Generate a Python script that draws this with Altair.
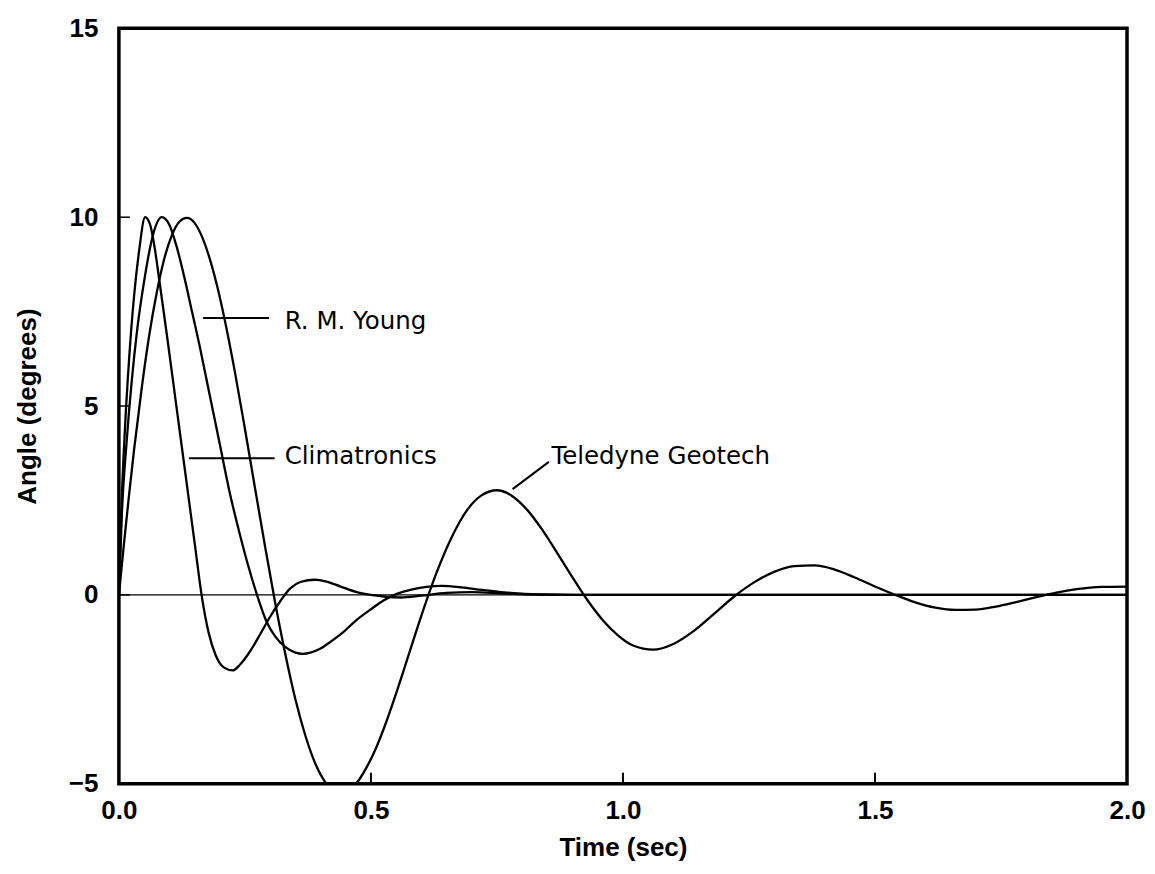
import altair as alt
import pandas as pd

# ---- data ----
clim_t = [0, 0.005, 0.012, 0.02, 0.03, 0.04, 0.052, 0.062, 0.072, 0.081, 0.095, 0.11, 0.125, 0.14,
          0.152, 0.164, 0.178, 0.192, 0.208, 0.226, 0.24, 0.26, 0.28, 0.30, 0.32, 0.34, 0.36, 0.389,
          0.41, 0.44, 0.47, 0.50, 0.53, 0.56, 0.60, 0.65, 0.70, 0.76, 0.82, 0.9, 1.0, 1.2, 1.4, 1.6, 1.8, 2.0]
clim_v = [0, 2.3, 4.4, 6.2, 7.9, 9.1, 10.0, 9.8, 9.1, 8.25, 6.9, 5.4, 3.9, 2.4,
          1.2, 0.0, -1.0, -1.6, -1.92, -2.0, -1.85, -1.5, -1.05, -0.58, -0.17, 0.17, 0.34, 0.40,
          0.36, 0.22, 0.08, 0.0, -0.05, -0.07, -0.02, 0.05, 0.07, 0.04, 0.01, 0.0, 0.0, 0.0, 0.0, 0.0, 0.0, 0.0]

young_t = [0, 0.006, 0.015, 0.025, 0.037, 0.05, 0.068, 0.085, 0.10, 0.115, 0.13, 0.145, 0.16, 0.18,
           0.20, 0.22, 0.24, 0.257, 0.274, 0.293, 0.31, 0.33, 0.35, 0.365, 0.38, 0.40, 0.42, 0.444,
           0.47, 0.50, 0.525, 0.55, 0.58, 0.61, 0.64, 0.68, 0.72, 0.77, 0.83, 0.9, 1.0, 1.2, 1.4, 1.6,
           1.8, 2.0]
young_v = [0, 2.2, 4.0, 5.6, 7.1, 8.3, 9.55, 10.0, 9.8, 9.2, 8.4, 7.5, 6.6, 5.3,
           4.0, 2.7, 1.6, 0.75, 0.0, -0.71, -1.1, -1.38, -1.53, -1.56, -1.53, -1.42, -1.24, -1.0,
           -0.68, -0.38, -0.15, 0.02, 0.14, 0.21, 0.24, 0.2, 0.13, 0.06, 0.01, 0.0, 0.0, 0.0, 0.0, 0.0,
           0.0, 0.0]

tele_t = [0, 0.01, 0.02, 0.03, 0.045, 0.06, 0.075, 0.09, 0.105, 0.12, 0.135, 0.15, 0.165, 0.18,
          0.195, 0.21, 0.23, 0.25, 0.27, 0.29, 0.31, 0.33, 0.35, 0.37, 0.39, 0.41, 0.43, 0.45,
          0.47, 0.49, 0.51, 0.53, 0.55, 0.57, 0.59, 0.61, 0.63, 0.66, 0.69, 0.72, 0.75, 0.78,
          0.81, 0.84, 0.87, 0.90, 0.93, 0.96, 0.99, 1.02, 1.06, 1.10, 1.14, 1.18, 1.22, 1.26,
          1.30, 1.34, 1.38, 1.42, 1.46, 1.50, 1.54, 1.58, 1.62, 1.66, 1.70, 1.74, 1.78, 1.82,
          1.86, 1.90, 1.95, 2.0]
tele_v = [0, 1.35, 2.63, 3.83, 5.45, 6.86, 8.0, 8.9, 9.52, 9.88, 9.98, 9.85, 9.48, 8.91,
          8.17, 7.28, 5.91, 4.40, 2.83, 1.28, -0.21, -1.56, -2.76, -3.73, -4.48, -4.97, -5.21, -5.22,
          -5.01, -4.60, -4.06, -3.38, -2.61, -1.79, -0.96, -0.16, 0.58, 1.52, 2.23, 2.64, 2.77, 2.62,
          2.25, 1.72, 1.10, 0.46, -0.15, -0.67, -1.07, -1.34, -1.45, -1.30, -0.96, -0.51, -0.05, 0.33,
          0.61, 0.76, 0.78, 0.67, 0.46, 0.22, 0.0, -0.20, -0.34, -0.40, -0.39, -0.31, -0.19, -0.06,
          0.06, 0.15, 0.21, 0.22]

series_names = ["Climatronics", "R. M. Young", "Teledyne Geotech"]

x_ticks = [0.0, 0.5, 1.0, 1.5, 2.0]
y_ticks = [-5, 0, 5, 10, 15]
inner_x_ticks = [0.5, 1.0, 1.5]
inner_y_ticks = [0, 5, 10]

# annotation labels (data coordinates)
label_text = ["R. M. Young", "Climatronics", "Teledyne Geotech"]
label_t = [0.329, 0.329, 0.858]
label_v = [7.22, 3.64, 3.65]

# pointer lines (data coordinates)
ptr_name = ["young", "clim", "tele"]
ptr_t1 = [0.167, 0.139, 0.781]
ptr_v1 = [7.33, 3.62, 2.80]
ptr_t2 = [0.298, 0.309, 0.853]
ptr_v2 = [7.33, 3.62, 3.52]

# ---- build tables ----
rows = []
for name, ts, vs in zip(series_names, [clim_t, young_t, tele_t], [clim_v, young_v, tele_v]):
    for t, v in zip(ts, vs):
        rows.append({"series": name, "t": t, "v": v})
curves = pd.DataFrame(rows)

xs = alt.Scale(domain=[0, 2], nice=False, zero=False)
ys = alt.Scale(domain=[-5, 15], nice=False, zero=False)

X = alt.X("t:Q", scale=xs, title="Time (sec)",
          axis=alt.Axis(values=x_ticks, format=".1f", labelPadding=27, labelBaseline="middle",
                        labelFlush=False,
                        titleX=504.5, titleY=64, titleBaseline="middle"))
Y = alt.Y("v:Q", scale=ys, title="Angle (degrees)",
          axis=alt.Axis(values=y_ticks, format="d", labelPadding=21, labelBaseline="middle",
                        labelFlush=False,
                        titleX=-91, titleY=378, titleAngle=-90, titleBaseline="middle"))

lines = alt.Chart(curves).mark_line(color="black", strokeWidth=2.3, clip=True,
                                    interpolate="monotone").encode(
    x=X, y=Y, detail="series:N", order="t:Q")

zero = alt.Chart(pd.DataFrame({"v": [0]})).mark_rule(color="black", strokeWidth=1.3).encode(y=Y)

bticks = alt.Chart(pd.DataFrame({"t": inner_x_ticks})).mark_rule(color="black", strokeWidth=2).encode(
    x=X, y=alt.value(756), y2=alt.value(745))
lticks = alt.Chart(pd.DataFrame({"v": inner_y_ticks})).mark_rule(color="black", strokeWidth=1.5).encode(
    y=Y, x=alt.value(0), x2=alt.value(11))

ptr_df = pd.DataFrame({"name": ptr_name, "t": ptr_t1, "v": ptr_v1, "t2": ptr_t2, "v2": ptr_v2})
pointers = alt.Chart(ptr_df).mark_rule(color="black", strokeWidth=2).encode(
    x=X, y=Y, x2="t2:Q", y2="v2:Q")

lab_df = pd.DataFrame({"text": label_text, "t": label_t, "v": label_v})
labels = alt.Chart(lab_df).mark_text(align="left", baseline="middle", font="DejaVu Sans",
                                     fontSize=24.5, color="black").encode(x=X, y=Y, text="text:N")

chart = alt.layer(lines, zero, bticks, lticks, pointers, labels).properties(
    width=1009, height=756,
    padding={"left": 111, "top": 20, "right": 20, "bottom": 80},
    autosize=alt.AutoSizeParams(type="none"),
    background="white",
).configure_view(stroke="black", strokeWidth=3.5).configure_axis(
    ticks=False, tickSize=0, domain=False, grid=False,
    labelFont="Liberation Sans", labelFontWeight="bold", labelFontSize=26, labelColor="black",
    titleFont="Liberation Sans", titleFontWeight="bold", titleFontSize=26, titleColor="black",
)

chart.save("out.html", embed_options={"renderer": "svg", "actions": False})
